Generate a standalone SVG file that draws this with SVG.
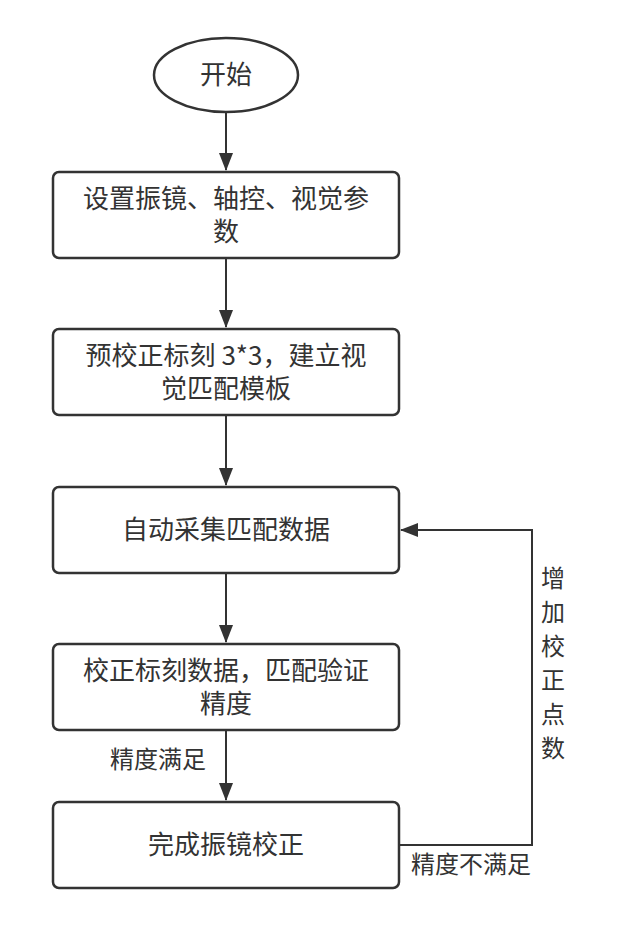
<svg xmlns="http://www.w3.org/2000/svg" width="628" height="931" viewBox="0 0 628 931">
<style>
.n{fill:#fff;stroke:#333;stroke-width:2.5}
.t{font-family:"Noto Sans CJK SC",sans-serif;font-size:26px;fill:#333;text-anchor:middle}
.l{font-family:"Noto Sans CJK SC",sans-serif;font-size:24px;fill:#333;text-anchor:middle}
.c{fill:none;stroke:#333;stroke-width:2}
</style>
<defs><marker id="b" markerWidth="18" markerHeight="14" refX="17" refY="7" orient="auto" markerUnits="userSpaceOnUse" viewBox="0 0 18 14"><path d="M0,0L18,7L0,14z" fill="#333"/></marker></defs>
<rect width="628" height="931" fill="#fff"/>
<g id="connectors">
<line class="c" x1="226" y1="112" x2="226" y2="170" marker-end="url(#b)"/>
<line class="c" x1="226" y1="258" x2="226" y2="327" marker-end="url(#b)"/>
<line class="c" x1="226" y1="415" x2="226" y2="485" marker-end="url(#b)"/>
<line class="c" x1="226" y1="573" x2="226" y2="642" marker-end="url(#b)"/>
<line class="c" x1="226" y1="730" x2="226" y2="800" marker-end="url(#b)"/>
<polyline class="c" points="399,845 532,845 532,530 401,530" marker-end="url(#b)"/>
<text class="l" x="158" y="768">精度满足</text>
<text class="l" x="471" y="873">精度不满足</text>
<text class="l" x="553" y="587">增</text>
<text class="l" x="553" y="621">加</text>
<text class="l" x="553" y="655">校</text>
<text class="l" x="553" y="689">正</text>
<text class="l" x="553" y="723">点</text>
<text class="l" x="553" y="757">数</text>
</g>
<g id="start"><ellipse class="n" cx="226" cy="75" rx="72" ry="37"/><text class="t" x="226" y="84">开始</text></g>
<g id="n1"><rect class="n" x="53" y="172" width="346" height="86" rx="6"/><text class="t" x="226" y="208">设置振镜、轴控、视觉参</text><text class="t" x="226" y="241">数</text></g>
<g id="n2"><rect class="n" x="53" y="329" width="346" height="86" rx="6"/><text class="t" x="226" y="365">预校正标刻 3*3，建立视</text><text class="t" x="226" y="398">觉匹配模板</text></g>
<g id="n3"><rect class="n" x="53" y="487" width="346" height="86" rx="6"/><text class="t" x="226" y="539">自动采集匹配数据</text></g>
<g id="n4"><rect class="n" x="53" y="644" width="346" height="86" rx="6"/><text class="t" x="226" y="680">校正标刻数据，匹配验证</text><text class="t" x="226" y="713">精度</text></g>
<g id="n5"><rect class="n" x="53" y="802" width="346" height="86" rx="6"/><text class="t" x="226" y="854">完成振镜校正</text></g>
</svg>
